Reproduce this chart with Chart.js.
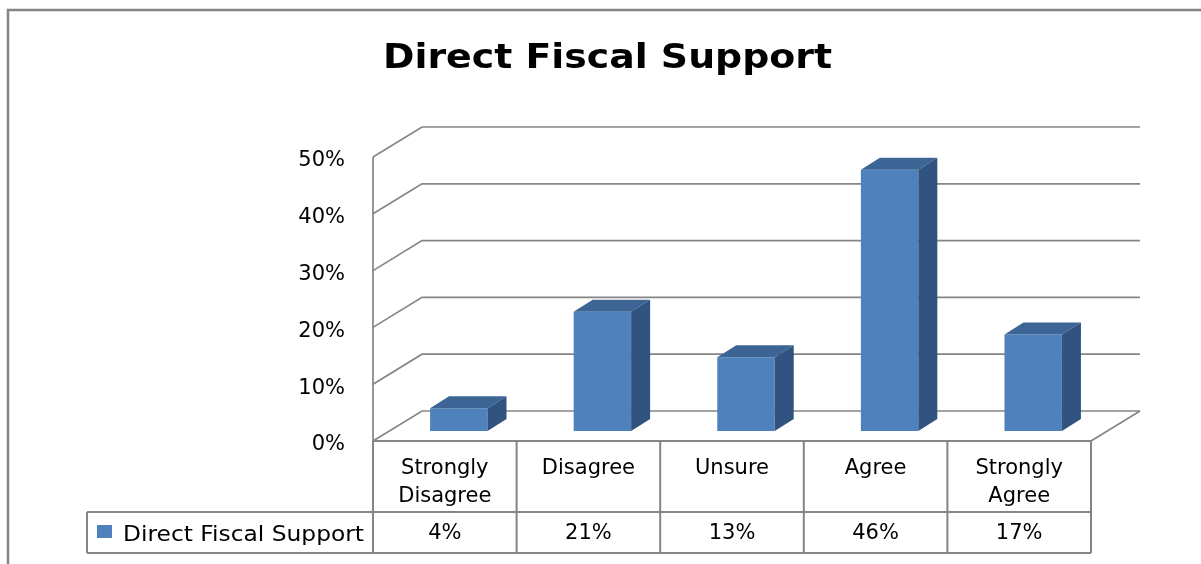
<!DOCTYPE html>
<html>
<head>
<meta charset="utf-8">
<script src="https://cdn.jsdelivr.net/npm/chart.js@4"></script>
<style>
  html, body { margin: 0; padding: 0; background: #fff; }
  #wrap { width: 1201px; height: 564px; }
</style>
</head>
<body>
<div id="wrap"><canvas id="chartId" width="1201" height="564"></canvas></div>
<script>
// chart data
const chartTitle = "Direct Fiscal Support";
const categories = [["Strongly", "Disagree"], ["Disagree"], ["Unsure"], ["Agree"], ["Strongly", "Agree"]];
const seriesName = "Direct Fiscal Support";
const seriesValues = [4, 21, 13, 46, 17];
const yTicks = [0, 10, 20, 30, 40, 50];

const FONT = "'DejaVu Sans', sans-serif";
const frontColor = "#4f81bd";
const topColor = "#3c6596";
const sideColor = "#30537f";
const lineColor = "#858585";

// depth of the back wall and of the bars
const wallDx = 49, wallDy = -30;
const barShiftX = 14, barShiftY = -10;
const barDx = 19, barDy = -12;

// draw text squeezed/stretched to a given width
function fitText(ctx, text, x, y, width) {
  const w = ctx.measureText(text).width;
  ctx.save();
  ctx.translate(x, y);
  ctx.scale(width / w, 1);
  ctx.fillText(text, 0, 0);
  ctx.restore();
}

const depthPlugin = {
  id: "depth",
  beforeDatasetsDraw(chart) {
    const ctx = chart.ctx;
    const area = chart.chartArea;
    const y = chart.scales.y;
    ctx.save();
    ctx.strokeStyle = lineColor;
    ctx.lineWidth = 1.7;
    // back wall + side wall grid lines
    yTicks.forEach(function (v) {
      const py = y.getPixelForValue(v);
      ctx.beginPath();
      ctx.moveTo(area.left, py);
      ctx.lineTo(area.left + wallDx, py + wallDy);
      ctx.lineTo(area.right + wallDx, py + wallDy);
      ctx.stroke();
    });
    // front left edge and floor right edge
    ctx.beginPath();
    ctx.moveTo(area.left, area.top);
    ctx.lineTo(area.left, area.bottom);
    ctx.moveTo(area.right, area.bottom);
    ctx.lineTo(area.right + wallDx, area.bottom + wallDy);
    ctx.stroke();
    ctx.restore();

    // bars sit in the middle of the floor
    ctx.save();
    ctx.translate(barShiftX, barShiftY);
  },
  afterDatasetsDraw(chart) {
    const ctx = chart.ctx;
    const bars = chart.getDatasetMeta(0).data;
    bars.forEach(function (bar) {
      const l = bar.x - bar.width / 2, r = bar.x + bar.width / 2;
      const t = bar.y, b = bar.base;
      // top face
      ctx.fillStyle = topColor;
      ctx.beginPath();
      ctx.moveTo(l, t);
      ctx.lineTo(l + barDx, t + barDy);
      ctx.lineTo(r + barDx, t + barDy);
      ctx.lineTo(r, t);
      ctx.closePath();
      ctx.fill();
      // side face
      ctx.fillStyle = sideColor;
      ctx.beginPath();
      ctx.moveTo(r, t);
      ctx.lineTo(r + barDx, t + barDy);
      ctx.lineTo(r + barDx, b + barDy);
      ctx.lineTo(r, b);
      ctx.closePath();
      ctx.fill();
    });
    ctx.restore();
  },
  afterDraw(chart) {
    const ctx = chart.ctx;
    const area = chart.chartArea;
    const x = chart.scales.x;
    const step = x.getPixelForTick(1) - x.getPixelForTick(0);
    const rowTop = area.bottom, rowMid = 512, rowBot = 553, legendLeft = 87;

    ctx.save();
    // outer frame
    ctx.strokeStyle = lineColor;
    ctx.lineWidth = 2.5;
    ctx.strokeRect(8, 10, 1400, 800);

    // title
    ctx.fillStyle = "#000";
    ctx.font = "bold 34px " + FONT;
    ctx.textAlign = "left";
    ctx.textBaseline = "alphabetic";
    fitText(ctx, chartTitle, 383, 68, 449);

    // data table
    ctx.lineWidth = 2;
    ctx.beginPath();
    ctx.moveTo(area.left, rowTop);
    ctx.lineTo(area.right, rowTop);
    ctx.moveTo(legendLeft, rowMid);
    ctx.lineTo(area.right, rowMid);
    ctx.moveTo(legendLeft, rowBot);
    ctx.lineTo(area.right, rowBot);
    ctx.moveTo(legendLeft, rowMid);
    ctx.lineTo(legendLeft, rowBot);
    for (let i = 0; i <= categories.length; i++) {
      const px = x.getPixelForTick(0) - step / 2 + i * step;
      ctx.moveTo(px, rowTop);
      ctx.lineTo(px, rowBot);
    }
    ctx.stroke();

    const midY = (rowMid + rowBot) / 2 + 1;
    ctx.fillStyle = frontColor;
    ctx.fillRect(97, 525, 15, 13);
    ctx.fillStyle = "#000";
    ctx.font = "22px " + FONT;
    ctx.textBaseline = "alphabetic";
    fitText(ctx, seriesName, 123, 541, 241);
    ctx.font = "21px " + FONT;
    ctx.textAlign = "center";
    ctx.textBaseline = "middle";
    seriesValues.forEach(function (v, i) {
      ctx.fillText(v + "%", x.getPixelForTick(i), midY);
    });
    ctx.restore();
  }
};

const chrt = document.getElementById("chartId").getContext("2d");
const chartId = new Chart(chrt, {
  type: "bar",
  data: {
    labels: categories,
    datasets: [
      {
        label: seriesName,
        data: seriesValues,
        backgroundColor: frontColor,
        borderWidth: 0,
        barPercentage: 0.4,
        categoryPercentage: 1,
      },
    ],
  },
  options: {
    responsive: false,
    animation: false,
    layout: { padding: { left: 0, right: 110, top: 157, bottom: 51 } },
    plugins: {
      legend: { display: false },
      tooltip: { enabled: false },
      title: { display: false },
    },
    scales: {
      x: {
        grid: { display: false, drawTicks: false },
        border: { display: false },
        ticks: {
          color: "#000",
          font: { family: FONT, size: 21, lineHeight: 1.35 },
          padding: 13,
          maxRotation: 0,
          autoSkip: false,
        },
        afterFit(scale) {
          scale.height = 72;
        },
      },
      y: {
        min: 0,
        max: 50,
        grid: { display: false, drawTicks: false },
        border: { display: false },
        ticks: {
          stepSize: 10,
          color: "#000",
          font: { family: FONT, size: 21 },
          padding: 28,
          labelOffset: 4,
          callback: function (v) {
            return v + "%";
          },
        },
        afterFit(scale) {
          scale.width = 373;
        },
      },
    },
  },
  plugins: [depthPlugin],
});
</script>
</body>
</html>
